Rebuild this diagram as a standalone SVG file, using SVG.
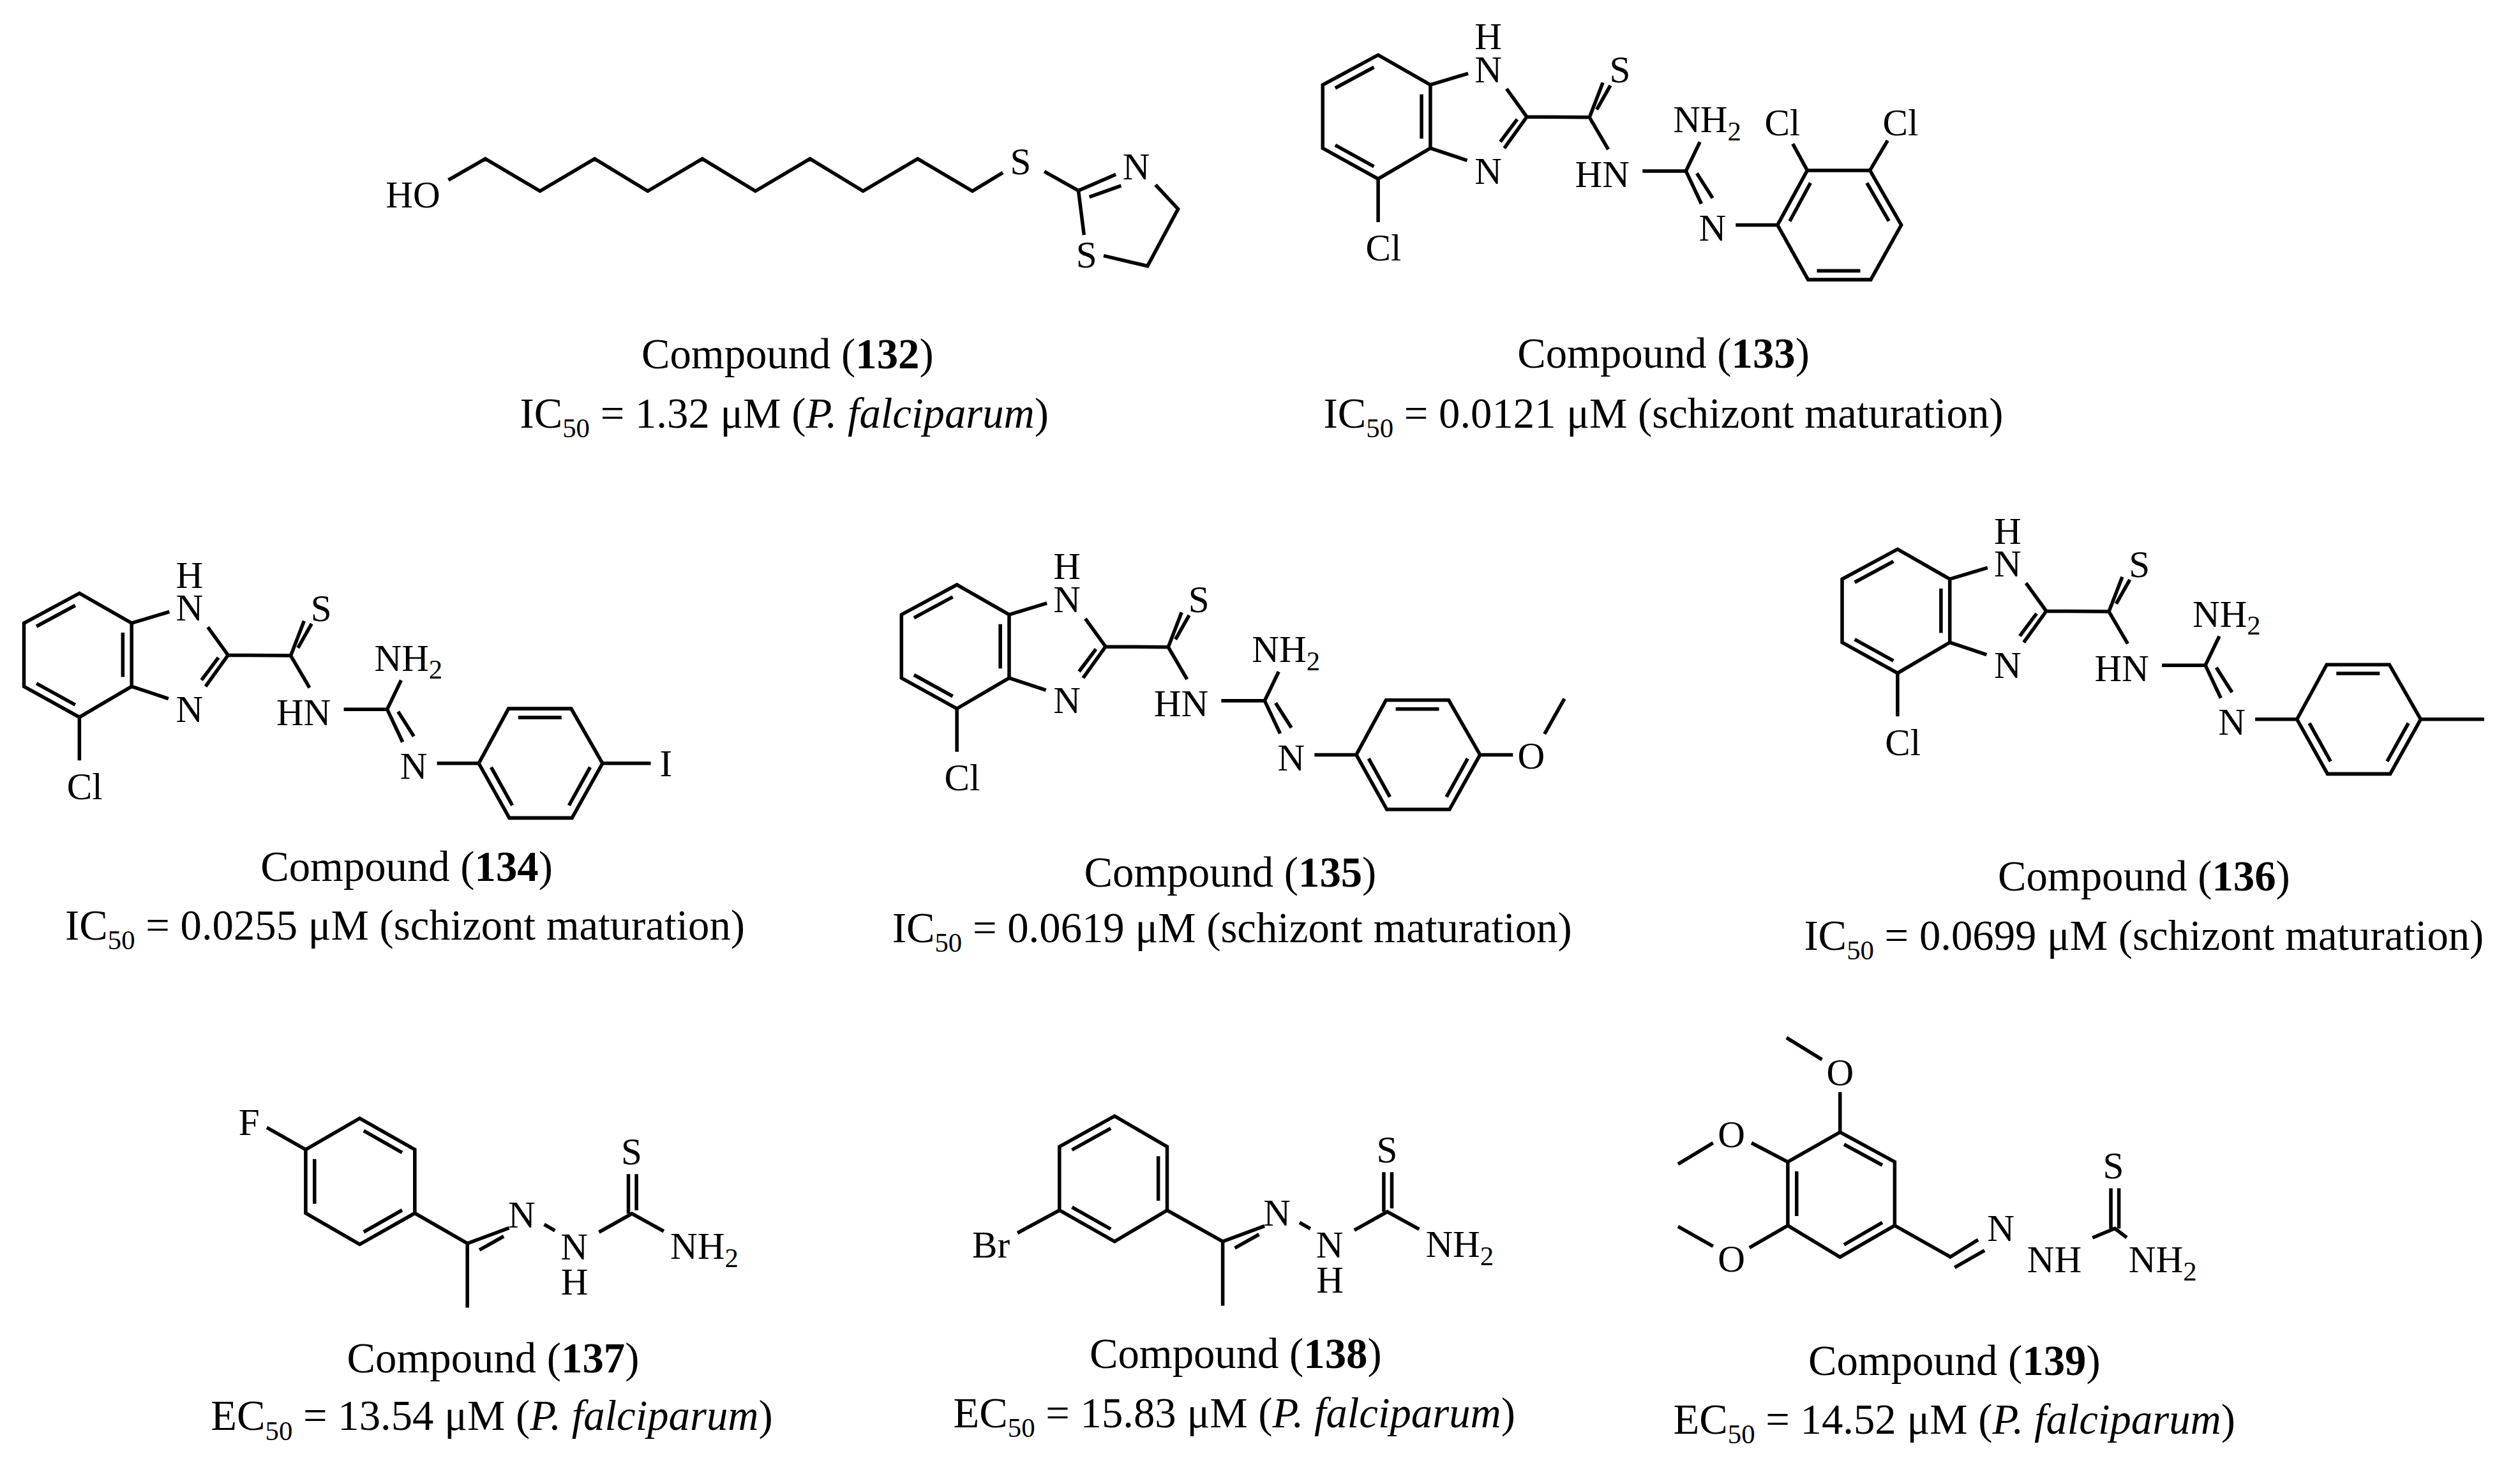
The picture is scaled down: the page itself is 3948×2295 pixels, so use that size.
<svg xmlns="http://www.w3.org/2000/svg" width="3948" height="2295" viewBox="0 0 3948 2295">
<style>
.b{fill:none;stroke:#000;stroke-width:2.2;stroke-linejoin:miter}
.a{font-family:"Liberation Serif","Times New Roman",serif;font-size:23.5px;text-anchor:middle;fill:#000}
.s{text-anchor:start}
.c{font-family:"Liberation Serif","Times New Roman",serif;font-size:26.5px;text-anchor:middle;fill:#000}
.sub{font-size:17px}
</style>
<rect width="3948" height="2295" fill="#fff"/>
<g transform="scale(2.5179)">
<g id="c132">
<path class="b" d="M279,112 L302,98.8 L336,118.9 L370,98.8 L403,118.9 L437,98.8 L470,118.9 L504,98.8 L537,118.9 L571,98.8 L605,118.9 L624,107.4 M649.8,106.7 L671,118.6 L694.3,108.5 M677.8,122.6 L697.6,115.5 M719,115 L733,130 L714,165.5 L686.7,159.1 M671,118.6 L674.5,146.2"/>
<text class="a s" x="240" y="129">HO</text>
<text class="a" x="635" y="108.6">S</text>
<text class="a" x="707" y="111.7">N</text>
<text class="a" x="676" y="166.3">S</text>
<text class="c" x="490" y="229">Compound (<tspan font-weight="bold">132</tspan>)</text>
<text class="c" x="488" y="266">IC<tspan class="sub" dy="6">50</tspan><tspan dy="-6"> = 1.32 μM (</tspan><tspan font-style="italic">P. falciparum</tspan>)</text>
</g>
<g id="c133">
<g transform="translate(857.5,34.2)">
<path class="b" d="M0,0 L-34.5,18.6 L-34.5,58 L0,77.1 L32.5,58 L32.5,18.6 Z"/>
<path class="b" d="M-2.6,7.6 L-26.7,20.6 M-26.7,56.1 L-2.6,69.4 M27,24.5 L27,52.1 M32.5,18.6 L56,11.5 M79.9,21.1 L92.5,38.5 L78.5,58 M86.5,40 L76,54 M55.4,65.6 L32.5,58 M0,77.1 L0,104 M92.5,38.5 L131.5,38.8 L139.8,17.2 M136,34 L144.5,19 M131.5,38.8 L143.2,58.8 M164.5,72.2 L191.5,72.2 L200.2,54.1 M191.5,72.2 L201.1,92.6 M198.3,73.6 L208.1,89 M222.5,105.8 L248.5,105.8"/>
<path class="b" d="M248.5,105.8 L267,71.8 L306,71.8 L325.5,105.8 L306.5,139.8 L267.5,139.8 Z"/>
<path class="b" d="M256.1,103.4 L269,79.6 M304.1,79.6 L317.8,103.4 M273,134.3 L300,134.3 M267,71.8 L258,55.3 M306,71.8 L317,53.2"/>
<text class="a" x="68.5" y="-3.5">H</text>
<text class="a" x="68.5" y="17">N</text>
<text class="a" x="68.5" y="80">N</text>
<text class="a" x="3.3" y="128">Cl</text>
<text class="a" x="150.5" y="17.2">S</text>
<text class="a" x="139.5" y="82">HN</text>
<text class="a s" x="183.5" y="48.2">NH<tspan class="sub" dy="5">2</tspan></text>
<text class="a" x="208" y="115.6">N</text>
<text class="a" x="251.5" y="50">Cl</text>
<text class="a" x="325" y="50">Cl</text>
</g>
<text class="c" x="1035" y="228.6">Compound (<tspan font-weight="bold">133</tspan>)</text>
<text class="c" x="1035" y="266">IC<tspan class="sub" dy="6">50</tspan><tspan dy="-6"> = 0.0121 μM (schizont maturation)</tspan></text>
</g>
<g id="c134">
<g transform="translate(49.4,369.1)">
<path class="b" d="M0,0 L-34.5,18.6 L-34.5,58 L0,77.1 L32.5,58 L32.5,18.6 Z"/>
<path class="b" d="M-2.6,7.6 L-26.7,20.6 M-26.7,56.1 L-2.6,69.4 M27,24.5 L27,52.1 M32.5,18.6 L56,11.5 M79.9,21.1 L92.5,38.5 L78.5,58 M86.5,40 L76,54 M55.4,65.6 L32.5,58 M0,77.1 L0,104 M92.5,38.5 L131.5,38.8 L139.8,17.2 M136,34 L144.5,19 M131.5,38.8 L143.2,58.8 M164.5,72.2 L191.5,72.2 L200.2,54.1 M191.5,72.2 L201.1,92.6 M198.3,73.6 L208.1,89 M222.5,105.8 L248.5,105.8"/>
<path class="b" d="M248.5,105.8 L267,71.8 L306,71.8 L325.5,105.8 L306.5,139.8 L267.5,139.8 Z"/>
<path class="b" d="M256.2,108.2 L269.4,132 M317.8,108.2 L304.6,132 M273,77.3 L300,77.3 M325.5,105.8 L355.5,105.8"/>
<text class="a" x="68.5" y="-3.5">H</text>
<text class="a" x="68.5" y="17">N</text>
<text class="a" x="68.5" y="80">N</text>
<text class="a" x="3.3" y="128">Cl</text>
<text class="a" x="150.5" y="17.2">S</text>
<text class="a" x="139.5" y="82">HN</text>
<text class="a s" x="183.5" y="48.2">NH<tspan class="sub" dy="5">2</tspan></text>
<text class="a" x="208" y="115.6">N</text>
<text class="a" x="365" y="113.8">I</text>
</g>
<text class="c" x="253" y="548">Compound (<tspan font-weight="bold">134</tspan>)</text>
<text class="c" x="252" y="584.5">IC<tspan class="sub" dy="6">50</tspan><tspan dy="-6"> = 0.0255 μM (schizont maturation)</tspan></text>
</g>
<g id="c135">
<g transform="translate(595.4,363.8)">
<path class="b" d="M0,0 L-34.5,18.6 L-34.5,58 L0,77.1 L32.5,58 L32.5,18.6 Z"/>
<path class="b" d="M-2.6,7.6 L-26.7,20.6 M-26.7,56.1 L-2.6,69.4 M27,24.5 L27,52.1 M32.5,18.6 L56,11.5 M79.9,21.1 L92.5,38.5 L78.5,58 M86.5,40 L76,54 M55.4,65.6 L32.5,58 M0,77.1 L0,104 M92.5,38.5 L131.5,38.8 L139.8,17.2 M136,34 L144.5,19 M131.5,38.8 L143.2,58.8 M164.5,72.2 L191.5,72.2 L200.2,54.1 M191.5,72.2 L201.1,92.6 M198.3,73.6 L208.1,89 M222.5,105.8 L248.5,105.8"/>
<path class="b" d="M248.5,105.8 L267,71.8 L306,71.8 L325.5,105.8 L306.5,139.8 L267.5,139.8 Z"/>
<path class="b" d="M256.2,108.2 L269.4,132 M317.8,108.2 L304.6,132 M273,77.3 L300,77.3 M325.5,105.8 L346,105.8 M365.6,92.9 L378,70.9"/>
<text class="a" x="68.5" y="-3.5">H</text>
<text class="a" x="68.5" y="17">N</text>
<text class="a" x="68.5" y="80">N</text>
<text class="a" x="3.3" y="128">Cl</text>
<text class="a" x="150.5" y="17.2">S</text>
<text class="a" x="139.5" y="82">HN</text>
<text class="a s" x="183.5" y="48.2">NH<tspan class="sub" dy="5">2</tspan></text>
<text class="a" x="208" y="115.6">N</text>
<text class="a" x="357.3" y="114.2">O</text>
</g>
<text class="c" x="765.5" y="551.6">Compound (<tspan font-weight="bold">135</tspan>)</text>
<text class="c" x="766.6" y="586.2">IC<tspan class="sub" dy="6">50</tspan><tspan dy="-6"> = 0.0619 μM (schizont maturation)</tspan></text>
</g>
<g id="c136">
<g transform="translate(1180.7,341.7)">
<path class="b" d="M0,0 L-34.5,18.6 L-34.5,58 L0,77.1 L32.5,58 L32.5,18.6 Z"/>
<path class="b" d="M-2.6,7.6 L-26.7,20.6 M-26.7,56.1 L-2.6,69.4 M27,24.5 L27,52.1 M32.5,18.6 L56,11.5 M79.9,21.1 L92.5,38.5 L78.5,58 M86.5,40 L76,54 M55.4,65.6 L32.5,58 M0,77.1 L0,104 M92.5,38.5 L131.5,38.8 L139.8,17.2 M136,34 L144.5,19 M131.5,38.8 L143.2,58.8 M164.5,72.2 L191.5,72.2 L200.2,54.1 M191.5,72.2 L201.1,92.6 M198.3,73.6 L208.1,89 M222.5,105.8 L248.5,105.8"/>
<path class="b" d="M248.5,105.8 L267,71.8 L306,71.8 L325.5,105.8 L306.5,139.8 L267.5,139.8 Z"/>
<path class="b" d="M256.2,108.2 L269.4,132 M317.8,108.2 L304.6,132 M273,77.3 L300,77.3 M325.5,105.8 L365,105.8"/>
<text class="a" x="68.5" y="-3.5">H</text>
<text class="a" x="68.5" y="17">N</text>
<text class="a" x="68.5" y="80">N</text>
<text class="a" x="3.3" y="128">Cl</text>
<text class="a" x="150.5" y="17.2">S</text>
<text class="a" x="139.5" y="82">HN</text>
<text class="a s" x="183.5" y="48.2">NH<tspan class="sub" dy="5">2</tspan></text>
<text class="a" x="208" y="115.6">N</text>
</g>
<text class="c" x="1334" y="553.9">Compound (<tspan font-weight="bold">136</tspan>)</text>
<text class="c" x="1334" y="591">IC<tspan class="sub" dy="6">50</tspan><tspan dy="-6"> = 0.0699 μM (schizont maturation)</tspan></text>
</g>
<g id="c137">
<path class="b" d="M223.8,695.8 L258.1,715.2 L258.1,754.8 L223.8,774.2 L190.2,754.8 L190.2,715.2 Z"/>
<path class="b" d="M226.3,703.5 L250.2,717.1 M195.7,721.1 L195.7,748.9 M226.3,766.5 L250.2,752.9 M190.2,715.2 L166,701.5 M258.1,754.8 L290.8,773.6 L290.8,813.6 M290.8,773.6 L316.8,764 M298.3,777.7 L313.4,769.2 M338.6,761.8 L345.3,765.7 M372.7,766.6 L393.2,755.1 L413,766 M391,755.1 L391,730.5 M396,753 L396,730.5"/>
<text class="a" x="155" y="706">F</text>
<text class="a" x="324.6" y="763.6">N</text>
<text class="a" x="357.3" y="783.4">N</text>
<text class="a" x="357.5" y="805.4">H</text>
<text class="a" x="393" y="724.4">S</text>
<text class="a s" x="417" y="783.2">NH<tspan class="sub" dy="5">2</tspan></text>
<text class="c" x="306.8" y="853.7">Compound (<tspan font-weight="bold">137</tspan>)</text>
<text class="c" x="306" y="889.8">EC<tspan class="sub" dy="6">50</tspan><tspan dy="-6"> = 13.54 μM (</tspan><tspan font-style="italic">P. falciparum</tspan>)</text>
</g>
<g id="c138">
<path class="b" d="M693.5,694.4 L726.2,713.4 L726.2,753 L693.5,772.4 L659.2,753 L659.2,713.4 Z"/>
<path class="b" d="M667,715.4 L691.1,702 M720.7,719.3 L720.7,747.1 M667,751.1 L691.1,764.7 M659.2,753 L633.1,767.1 M726.2,753 L760.8,772.4 L760.8,812.4 M760.8,772.4 L786.8,762.8 M768.3,776.5 L783.4,768 M808.6,760.6 L815.3,764.5 M842.7,765.4 L863.2,753.9 L883,764.8 M861,753.9 L861,729.3 M866,751.8 L866,729.3"/>
<text class="a" x="616.6" y="782.5">Br</text>
<text class="a" x="794.6" y="762.4">N</text>
<text class="a" x="827.3" y="782.2">N</text>
<text class="a" x="827.5" y="804.2">H</text>
<text class="a" x="863" y="723.2">S</text>
<text class="a s" x="887" y="782">NH<tspan class="sub" dy="5">2</tspan></text>
<text class="c" x="768.8" y="851">Compound (<tspan font-weight="bold">138</tspan>)</text>
<text class="c" x="768" y="888">EC<tspan class="sub" dy="6">50</tspan><tspan dy="-6"> = 15.83 μM (</tspan><tspan font-style="italic">P. falciparum</tspan>)</text>
</g>
<g id="c139">
<path class="b" d="M1144.9,704.4 L1178.9,722.9 L1178.9,762.5 L1144.9,782.1 L1112.4,762.5 L1112.4,722.9 Z"/>
<path class="b" d="M1147.4,712 L1171.2,724.9 M1117.9,728.8 L1117.9,756.6 M1147.4,774.4 L1171.2,760.6 M1144.9,704.4 L1144.9,679.4 M1133.7,659.2 L1111.6,645.6 M1112.4,722.9 L1089.8,711.1 M1065.9,711.1 L1044.1,724.3 M1112.4,762.5 L1088.5,776.3 M1065.9,775.4 L1044.1,763.1 M1178.9,762.5 L1213.5,782 L1230.8,771.3 M1216.2,788.6 L1234.8,778 M1302,770.1 L1315.9,764.3 L1323.3,770 M1313.4,764.3 L1313.4,739.3 M1318.4,764.3 L1318.4,739.3"/>
<text class="a" x="1144.9" y="675.1">O</text>
<text class="a" x="1077.3" y="713.8">O</text>
<text class="a" x="1077.3" y="791">O</text>
<text class="a" x="1244.9" y="772">N</text>
<text class="a s" x="1261.3" y="791.7">NH</text>
<text class="a" x="1315" y="733.3">S</text>
<text class="a s" x="1324.4" y="791.7">NH<tspan class="sub" dy="5">2</tspan></text>
<text class="c" x="1216" y="855.5">Compound (<tspan font-weight="bold">139</tspan>)</text>
<text class="c" x="1216" y="892">EC<tspan class="sub" dy="6">50</tspan><tspan dy="-6"> = 14.52 μM (</tspan><tspan font-style="italic">P. falciparum</tspan>)</text>
</g>
</g>
</svg>
